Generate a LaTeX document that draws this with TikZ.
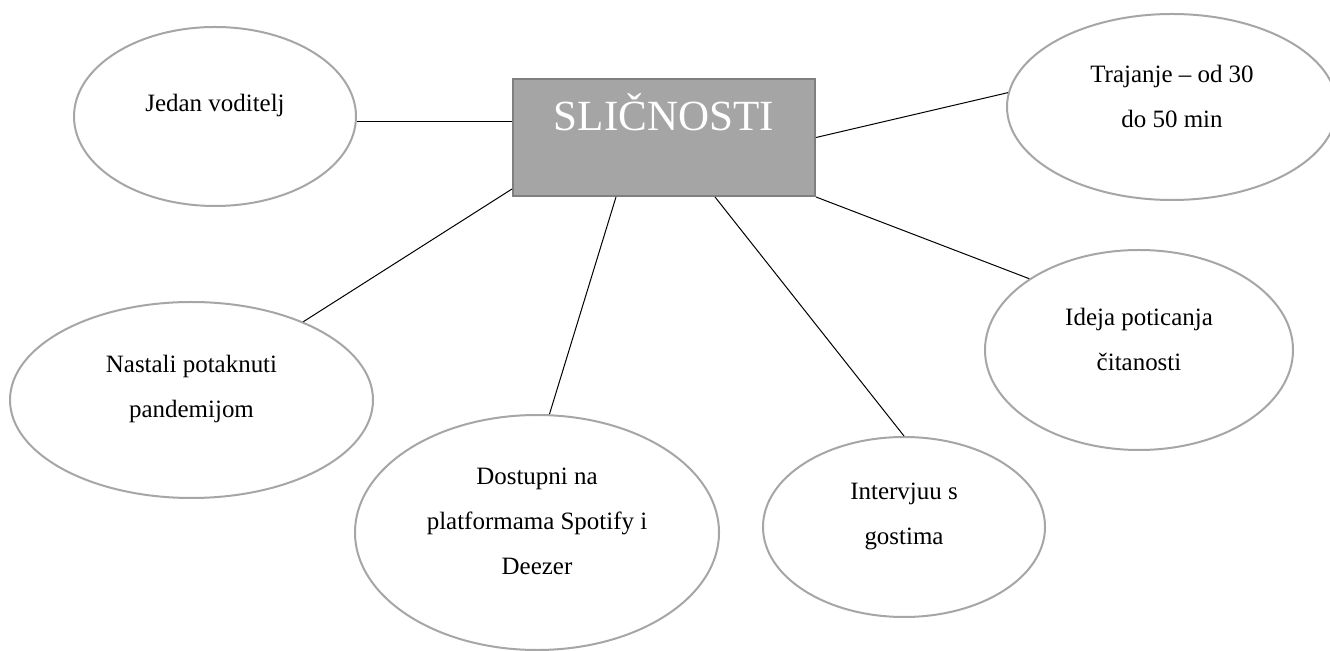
\documentclass[tikz,border=0pt]{standalone}
\usepackage{fontspec}
\setmainfont{Liberation Serif}
\usetikzlibrary{shapes.geometric, positioning}
\usepackage{xcolor}
\definecolor{boxgray}{HTML}{A5A5A5}
\definecolor{boxedge}{HTML}{7F7F7F}
\definecolor{ringgray}{HTML}{A6A6A6}
\def\pxsize{0.2mm}

\begin{document}
\begin{tikzpicture}[x=\pxsize, y=-\pxsize]
    \tikzstyle{title box}=[rectangle, draw=boxedge, line width=0.4mm, fill=boxgray, text=white, inner sep=0pt, minimum width=60.4mm, minimum height=23.4mm, text height=6mm, text depth=8.6mm, font=\fontsize{24.5}{29}\selectfont]
    \tikzstyle{bubble}=[ellipse, draw=ringgray, line width=0.4mm, fill=white, inner sep=0pt]
    \tikzstyle{btext}=[align=center, inner sep=0pt, yshift=2.2mm, font=\fontsize{14.2}{25.6}\selectfont]
    \tikzstyle{link}=[draw=black, line width=0.2mm]

    \useasboundingbox (0,0) rectangle (1330,651);

    \node[title box] (S) at (664,137.5) {SLIČNOSTI};

    \node[bubble, minimum width=56.4mm, minimum height=35.8mm, label={[btext, name=E-1-t]center:Jedan voditelj}] (E-1) at (215,116.5) {};
    \node[bubble, minimum width=66mm, minimum height=37.2mm, label={[btext, name=E-2-t]center:{Trajanje – od 30\\do 50 min}}] (E-2) at (1172,107) {};
    \node[bubble, minimum width=72.6mm, minimum height=39.2mm, label={[btext, name=E-3-t]center:{Nastali potaknuti\\pandemijom}}] (E-3) at (191.5,400) {};
    \node[bubble, minimum width=72.8mm, minimum height=47mm, label={[btext, name=E-4-t]center:{Dostupni na\\platformama Spotify i\\Deezer}}] (E-4) at (537,532.5) {};
    \node[bubble, minimum width=56.4mm, minimum height=36mm, label={[btext, name=E-5-t]center:{Intervjuu s\\gostima}}] (E-5) at (904,527) {};
    \node[bubble, minimum width=61.6mm, minimum height=40mm, label={[btext, name=E-6-t]center:{Ideja poticanja\\čitanosti}}] (E-6) at (1139,350) {};

    \draw[link] (E-1.-2.5) -- (E-1.-2.5 -| S.west);
    \draw[link] (S.east) -- (E-2.175);
    \draw[link] ([yshift=1.6mm]S.south west) -- (E-3.35);
    \draw[link] ([xshift=20.8mm]S.south west) -- (E-4.84);
    \draw[link] ([xshift=10.2mm]S.south) -- (E-5.north);
    \draw[link] (S.south east) -- (E-6.147);

\end{tikzpicture}
\end{document}
